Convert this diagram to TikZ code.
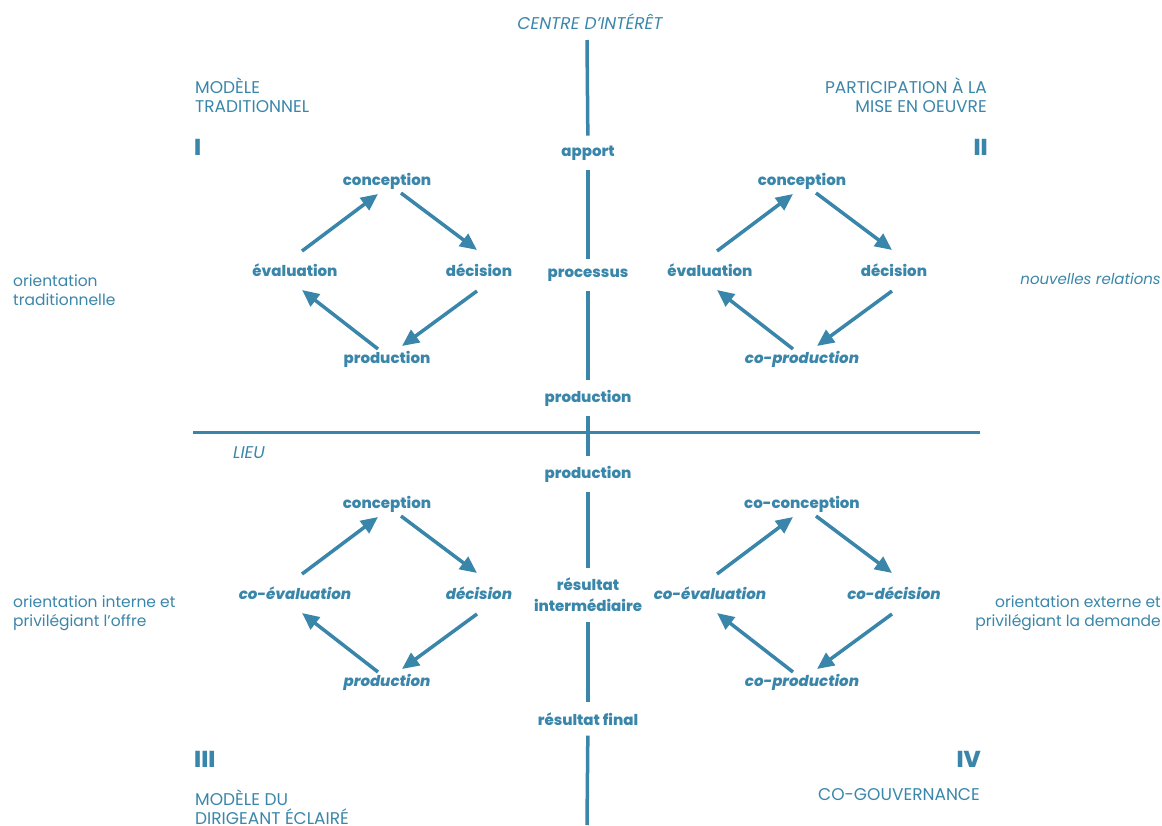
\documentclass[tikz,border=0pt]{standalone}
\usepackage{fontspec}
\setmainfont{Poppins}[BoldFont={Poppins ExtraBold}, BoldItalicFont={Poppins ExtraBold Italic}]
\usetikzlibrary{arrows.meta,calc}
\definecolor{ink}{RGB}{58,134,170}

\tikzset{
  lab/.style={text=ink, inner sep=0pt, font=\bfseries\fontsize{15}{18}\selectfont},
  labit/.style={lab, font=\bfseries\itshape\fontsize{15}{18}\selectfont},
  caps/.style={text=ink, inner sep=0pt, font=\fontsize{17}{19}\selectfont},
  capsit/.style={caps, font=\itshape\fontsize{17}{19}\selectfont},
  note/.style={text=ink, inner sep=0pt, font=\fontsize{15.5}{19}\selectfont},
  noteit/.style={note, font=\itshape\fontsize{15}{19}\selectfont},
  numeral/.style={text=ink, inner sep=0pt, font=\bfseries\fontsize{23}{24}\selectfont},
  axislab/.style={lab, inner sep=10pt, align=center},
  axis/.style={draw=ink, line width=3.5pt},
  cut/.style={draw=ink, line width=3pt},
  arr/.style={draw=ink, line width=3.5pt, -{Triangle[length=17pt,width=15pt]}},
}

% one cycle: #1 name prefix, #2 centre x, #3 centre y,
% #4 top, #5 left, #6 right, #7 bottom (style and node contents)
\newcommand\drawcycle[7]{%
  \node (#1top) at (#2,#3-89) [#4];
  \node (#1left) at (#2-92,#3) [#5];
  \node (#1right) at (#2+92,#3) [#6];
  \node (#1bot) at (#2,#3+89) [#7];
  \coordinate (#1p1) at (#2-85,#3-19);  \coordinate (#1q1) at (#2-9,#3-76);
  \coordinate (#1p2) at (#2+14,#3-77);  \coordinate (#1q2) at (#2+90,#3-20);
  \coordinate (#1p3) at (#2+90,#3+21);  \coordinate (#1q3) at (#2+15,#3+76);
  \coordinate (#1p4) at (#2-9,#3+79);   \coordinate (#1q4) at (#2-85,#3+20);
  \draw[arr] (#1p1) -- (#1q1);
  \draw[arr] (#1p2) -- (#1q2);
  \draw[arr] (#1p3) -- (#1q3);
  \draw[arr] (#1p4) -- (#1q4);
}

\begin{document}
\begin{tikzpicture}[x=1pt,y=-1pt]
\useasboundingbox (0,0) rectangle (1162,825);

% axes
\node[capsit] (centre) at (590,22) {CENTRE D’INTÉRÊT};
\coordinate (vtop) at (587,40);
\coordinate (vbot) at (587,825);
\node[axislab] (apport) at (588,153) {apport};
\node[axislab] (processus) at (588,275) {processus};
\node[axislab] (prodA) at (588,398) {production};
\node[axislab] (prodB) at (588,474) {production};
\node[axislab, font=\bfseries\fontsize{15}{21}\selectfont] (inter) at (588,595) {résultat\\intermédiaire};
\node[axislab] (final) at (588,719) {résultat final};

\draw[axis] (vtop) -- (apport);
\draw[axis] (apport) -- (processus);
\draw[axis] (processus) -- (prodA);
\draw[axis] (prodA) -- (prodB);
\draw[axis] (prodB) -- (inter);
\draw[axis] (inter) -- (final);
\draw[axis] (final) -- (vbot);

\coordinate (hl) at (193,432);
\coordinate (hr) at (980,432);
\draw[cut] (hl) -- (hr);
\node[capsit, anchor=west] (lieu) at (233,453) {LIEU};

% quadrant titles
\node[caps, anchor=north west, align=left] (t1) at (195,78) {MODÈLE\\TRADITIONNEL};
\node[numeral, anchor=west] (n1) at (194,147) {I};
\node[caps, anchor=north east, align=right] (t2) at (987,78) {PARTICIPATION À LA\\MISE EN OEUVRE};
\node[numeral, anchor=east] (n2) at (988,147) {II};
\node[numeral, anchor=west] (n3) at (194,759) {III};
\node[caps, anchor=north west, align=left] (t3) at (195,790) {MODÈLE DU\\DIRIGEANT ÉCLAIRÉ};
\node[numeral, anchor=east] (n4) at (981,759) {IV};
\node[caps, anchor=east] (t4) at (980,795) {CO-GOUVERNANCE};

% side notes
\node[note, anchor=north west, align=left] (o1) at (13,274) {orientation\\traditionnelle};
\node[noteit, anchor=east] (o2) at (1161,279) {nouvelles relations};
\node[note, anchor=north west, align=left] (o3) at (13,595) {orientation interne et\\privilégiant l’offre};
\node[note, anchor=north east, align=right] (o4) at (1161,595) {orientation externe et\\privilégiant la demande};

% the four cycles
\drawcycle{a}{387}{270}{lab,node contents={conception}}{lab,node contents={évaluation}}{lab,node contents={décision}}{lab,node contents={production}}
\drawcycle{b}{802}{270}{lab,node contents={conception}}{lab,node contents={évaluation}}{lab,node contents={décision}}{labit,node contents={co-production}}
\drawcycle{c}{387}{593}{lab,node contents={conception}}{labit,node contents={co-évaluation}}{labit,node contents={décision}}{labit,node contents={production}}
\drawcycle{d}{802}{593}{lab,node contents={co-conception}}{labit,node contents={co-évaluation}}{labit,node contents={co-décision}}{labit,node contents={co-production}}
\end{tikzpicture}
\end{document}
